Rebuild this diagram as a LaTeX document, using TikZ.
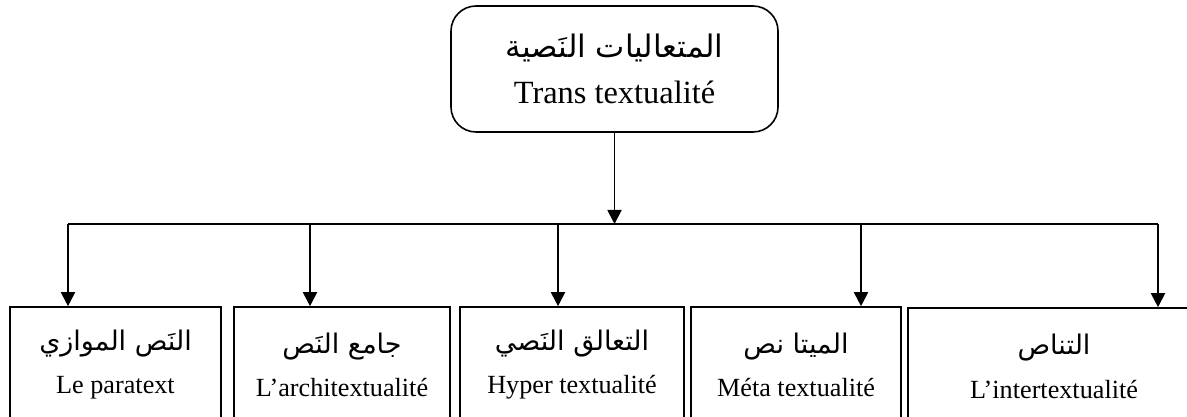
\documentclass[tikz,border=0pt]{standalone}
\usepackage{fontspec}
\setmainfont{Liberation Serif}
\newfontfamily\arabicfont[Script=Arabic]{DejaVu Sans}
\TeXXeTstate=1
\usetikzlibrary{arrows.meta,positioning}
\newcommand{\artxt}[1]{{\arabicfont\beginR #1\endR}}

\begin{document}
\begin{tikzpicture}[x=0.5pt, y=0.5pt, line/.style={-{Triangle[width=7pt,length=7pt]}, line width=0.95pt}, topbox/.style={rectangle,draw,rounded corners=12.5pt,line width=0.8pt,minimum width=163.5pt,minimum height=63pt,align=center,font=\fontsize{16.2}{20}\selectfont}, leaf/.style={rectangle,draw,line width=0.8pt,minimum height=58pt,inner sep=0pt,align=center,font=\fontsize{13.1}{16}\selectfont}]
\useasboundingbox (0,0) rectangle (1187,417);
\clip (0,0) rectangle (1187,417);
\node[topbox] (trans) at (614.5,348) {\artxt{\fontsize{15.5}{18}\selectfont المتعاليات النَصية}\\[3pt] Trans textualité};
% leaves
\node[leaf,minimum width=105.5pt] (para) at (115.5,52) {\artxt{\fontsize{13.5}{16}\selectfont النَص الموازي}\\[5.5pt] Le paratext};
\node[leaf,minimum width=108pt] (archi) at (342,52) {\artxt{\fontsize{13.5}{16}\selectfont جامع النَص}\\[5.5pt] L’architextualité};
\node[leaf,minimum width=112pt] (hyper) at (572,52) {\artxt{\fontsize{13.5}{16}\selectfont التعالق النَصي}\\[5.5pt] Hyper textualité};
\node[leaf,minimum width=105pt] (meta) at (796,52) {\artxt{\fontsize{13.5}{16}\selectfont الميتا نص}\\[5.5pt] Méta textualité};
\node[leaf,minimum width=146pt] (inter) at (1054,51) {\artxt{\fontsize{13.5}{16}\selectfont التناص}\\[6pt] L’intertextualité};
% bus
\coordinate (bus) at (614.5,193);
\coordinate (b1) at (68,193);
\coordinate (b2) at (310,193);
\coordinate (b3) at (558,193);
\coordinate (b4) at (861,193);
\coordinate (b5) at (1158,193);
\draw[line] (trans) -- (bus);
\draw[line width=0.95pt] (b1) -- (b5);
\draw[line] (b1) -- (b1 |- para.north);
\draw[line] (b2) -- (b2 |- archi.north);
\draw[line] (b3) -- (b3 |- hyper.north);
\draw[line] (b4) -- (b4 |- meta.north);
\draw[line] (b5) -- (b5 |- inter.north);
\end{tikzpicture}
\end{document}
